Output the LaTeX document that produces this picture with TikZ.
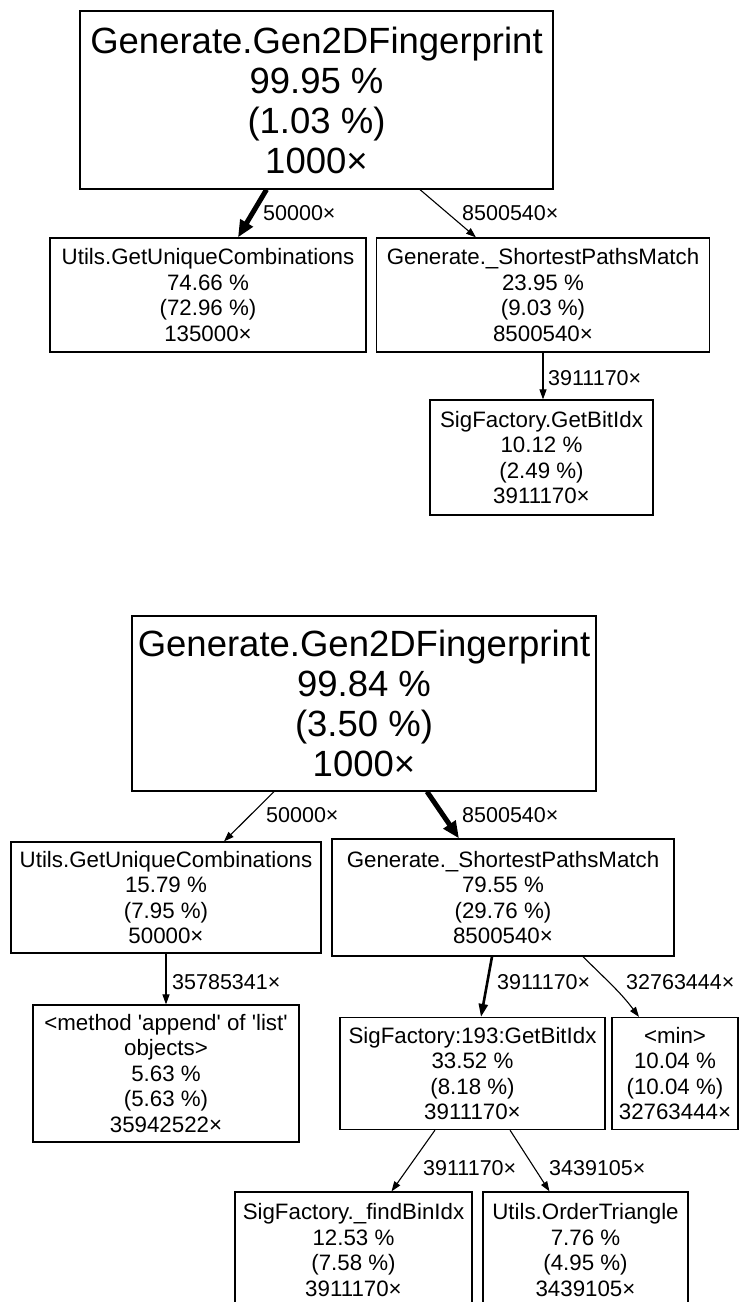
\documentclass[tikz,border=0pt]{standalone}
\usepackage{fontspec}
\setmainfont{Liberation Sans}
\usetikzlibrary{arrows.meta,calc}
\begin{document}
\begin{tikzpicture}[x=1pt,y=-1pt,
  box/.style={draw, line width=1.2pt, inner sep=0pt, align=center, rectangle},
  big/.style={font=\fontsize{36.5}{40}\selectfont},
  small/.style={font=\fontsize{22.3}{25.5}\selectfont},
  elab/.style={font=\fontsize{21.5}{24}\selectfont, anchor=west, inner sep=0pt},
  thinedge/.style={line width=1.1pt, -{Triangle[length=10pt,width=7pt]}},
  midedge/.style={line width=2.6pt, -{Triangle[length=13pt,width=9pt]}},
  fatedge/.style={line width=5pt, -{Triangle[length=17pt,width=14pt]}}
]
\clip (0,0) rectangle (744,1302);
\fill[white] (0,0) rectangle (744,1302);

% top graph
\node[box,big,minimum width=473pt,minimum height=178pt] (A) at (316.5,100)
  {Generate.Gen2DFingerprint\\99.95 \%\\(1.03 \%)\\1000×};
\node[box,small,minimum width=316pt,minimum height=114pt] (B) at (208,295)
  {Utils.GetUniqueCombinations\\74.66 \%\\(72.96 \%)\\135000×};
\node[box,small,minimum width=333pt,minimum height=114pt] (C) at (543,295)
  {Generate.\_ShortestPathsMatch\\23.95 \%\\(9.03 \%)\\8500540×};
\node[box,small,minimum width=223pt,minimum height=115pt] (D) at (541.5,457.5)
  {SigFactory.GetBitIdx\\10.12 \%\\(2.49 \%)\\3911170×};

\draw[fatedge] ([xshift=-50pt]A.south) -- ([xshift=30pt]B.north);
\draw[thinedge] ([xshift=103.5pt]A.south) -- ([xshift=-67pt]C.north);
\draw[thinedge] (C.south) -- (C.south |- D.north);

\node[elab] (l1) at (263,213) {50000×};
\node[elab] (l2) at (462,213) {8500540×};
\node[elab] (l3) at (548,378) {3911170×};

% bottom graph
\node[box,big,minimum width=464pt,minimum height=175pt] (E) at (364,703.5)
  {Generate.Gen2DFingerprint\\99.84 \%\\(3.50 \%)\\1000×};
\node[box,small,minimum width=310pt,minimum height=111pt] (F) at (166,897.5)
  {Utils.GetUniqueCombinations\\15.79 \%\\(7.95 \%)\\50000×};
\node[box,small,minimum width=342pt,minimum height=117pt] (G) at (503,897.5)
  {Generate.\_ShortestPathsMatch\\79.55 \%\\(29.76 \%)\\8500540×};
\node[box,small,minimum width=266pt,minimum height=137pt] (H) at (166,1073.5)
  {<method \textquotesingle append\textquotesingle{} of \textquotesingle list\textquotesingle\\objects>\\5.63 \%\\(5.63 \%)\\35942522×};
\node[box,small,minimum width=265pt,minimum height=112pt] (I) at (472.5,1073.5)
  {SigFactory:193:GetBitIdx\\33.52 \%\\(8.18 \%)\\3911170×};
\node[box,small,minimum width=126pt,minimum height=112pt] (J) at (675,1073.5)
  {<min>\\10.04 \%\\(10.04 \%)\\32763444×};
\node[box,small,minimum width=237pt,minimum height=116pt] (K) at (353.5,1250)
  {SigFactory.\_findBinIdx\\12.53 \%\\(7.58 \%)\\3911170×};
\node[box,small,minimum width=205pt,minimum height=116pt] (L) at (585.5,1250)
  {Utils.OrderTriangle\\7.76 \%\\(4.95 \%)\\3439105×};

\draw[thinedge] ([xshift=-90pt]E.south) -- ([xshift=58pt]F.north);
\draw[fatedge] ([xshift=63pt]E.south) -- ([xshift=-44pt]G.north);
\draw[thinedge] (F.south) -- (F.south |- H.north);
\draw[midedge] ([xshift=-11pt]G.south) -- ([xshift=8.5pt]I.north);
\draw[thinedge] ([xshift=80pt]G.south) to[out=-45,in=127] ([xshift=-36pt]J.north);
\draw[thinedge] ([xshift=-37.5pt]I.south) -- ([xshift=38pt]K.north);
\draw[thinedge] ([xshift=37.5pt]I.south) -- ([xshift=-36pt]L.north);

\node[elab] (l4) at (266,815) {50000×};
\node[elab] (l5) at (462,815) {8500540×};
\node[elab] (l6) at (172,982) {35785341×};
\node[elab] (l7) at (497,982) {3911170×};
\node[elab] (l8) at (626,982) {32763444×};
\node[elab] (l9) at (423,1168) {3911170×};
\node[elab] (l10) at (549,1168) {3439105×};
\end{tikzpicture}
\end{document}
